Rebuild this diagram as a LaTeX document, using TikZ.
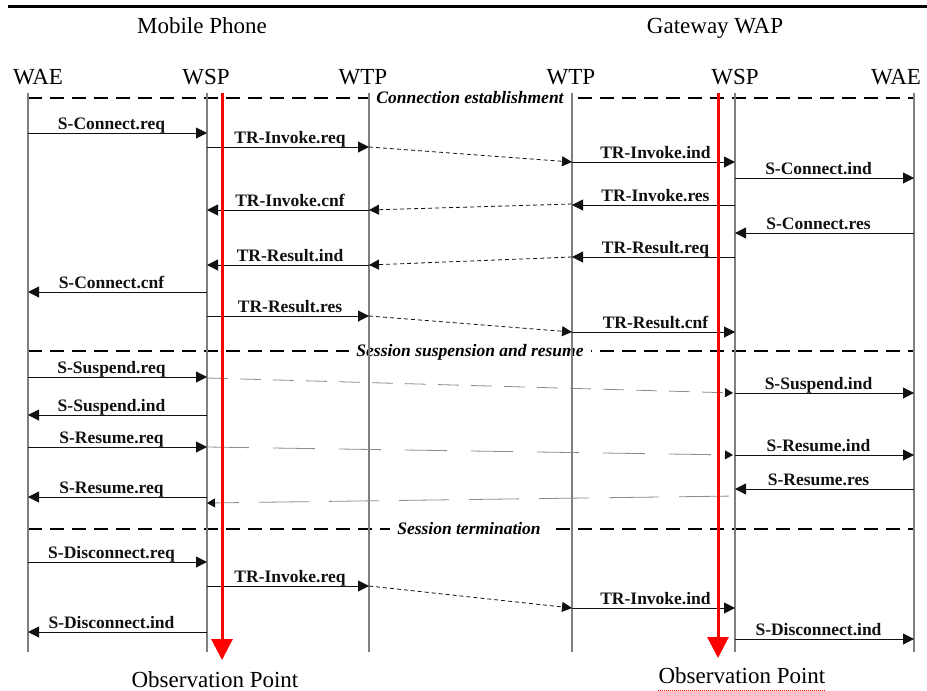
\documentclass[tikz,border=0pt]{standalone}
\usepackage{fontspec}
\setmainfont{Liberation Serif}
\usetikzlibrary{arrows.meta}
\definecolor{ink}{HTML}{111111}
\definecolor{lifegray}{HTML}{7F7F7F}
\definecolor{dotgray}{HTML}{8C8C8C}
\definecolor{obsred}{HTML}{FF0000}

\begin{document}
\begin{tikzpicture}[x=1pt,y=-1pt,
  hdr/.style={font=\fontsize{23}{26}\selectfont,anchor=base,inner sep=0pt},
  sec/.style={font=\fontsize{17.5}{20}\selectfont\bfseries\itshape,anchor=base,fill=white,inner xsep=7pt,inner ysep=2pt},
  lbl/.style={font=\fontsize{17.5}{20}\selectfont\bfseries,anchor=base,inner sep=0pt,yshift=3.5pt,xshift=2pt},
  slbl/.style={lbl,xshift=-8pt},
  sepline/.style={line width=1.8pt,dash pattern=on 14pt off 8pt},
  life/.style={line width=1.4pt,lifegray},
  msg/.style={-{Triangle[length=11pt,width=11pt]},line width=1pt,ink},
  xline/.style={-{Triangle[length=10pt,width=10pt]},line width=0.8pt,ink,dash pattern=on 4pt off 3pt},
  dots/.style={-{Triangle[length=8pt,width=9pt,color=ink]},line width=0.8pt,dotgray,shorten >=2pt},
  obs/.style={-{Triangle[length=21pt,width=21pt]},line width=3pt,obsred}]
  \useasboundingbox (0,0) rectangle (927,691);
  \fill[white] (0,0) rectangle (927,691);
  \draw[line width=3pt] (8,6) -- (927,6);

  % ===== headers =====
  \node[hdr] (mobile) at (202,33) {Mobile Phone};
  \node[hdr] (gateway) at (715,33) {Gateway WAP};
  \node[hdr] (waeLtxt) at (38,84) {WAE};
  \node[hdr] (wspLtxt) at (206,84) {WSP};
  \node[hdr] (wtpLtxt) at (363,84) {WTP};
  \node[hdr] (wtpRtxt) at (571,84) {WTP};
  \node[hdr] (wspRtxt) at (735,84) {WSP};
  \node[hdr] (waeRtxt) at (896,84) {WAE};

  % ===== lifeline tops =====
  \coordinate (waeL) at (28,93);
  \coordinate (wspL) at (207,93);
  \coordinate (wtpL) at (369,93);
  \coordinate (wtpR) at (572,93);
  \coordinate (wspR) at (735,93);
  \coordinate (waeR) at (914,93);
  \coordinate (obsL) at (222,93);
  \coordinate (obsR) at (718,93);

  % ===== phase separators =====
  \draw[sepline] (waeL |- 0,98) -- (waeR |- 0,98);
  \node[sec] (conn) at (470,103) {Connection establishment};
  \draw[sepline] (waeL |- 0,351) -- (waeR |- 0,351);
  \node[sec] (susp) at (470,356) {Session suspension and resume};
  \draw[sepline] (waeL |- 0,529) -- (waeR |- 0,529);
  \node[sec] (term) at (469,534) {Session termination};

  % ===== lifelines =====
  \draw[life] (waeL) -- (waeL |- 0,652);
  \draw[life] (wspL) -- (wspL |- 0,652);
  \draw[life] (wtpL) -- (wtpL |- 0,652);
  \draw[life] (wtpR) -- (wtpR |- 0,652);
  \draw[life] (wspR) -- (wspR |- 0,652);
  \draw[life] (waeR) -- (waeR |- 0,652);

  % ===== connection establishment =====
  \draw[msg] (waeL |- 0,133) -- node[slbl] {S-Connect.req} (wspL |- 0,133);
  \draw[msg] (wspL |- 0,147) -- node[lbl] {TR-Invoke.req} (wtpL |- 0,147);
  \draw[xline] (wtpL |- 0,147) -- (wtpR |- 0,162);
  \draw[msg] (wtpR |- 0,162) -- node[lbl] {TR-Invoke.ind} (wspR |- 0,162);
  \draw[msg] (wspR |- 0,178) -- node[slbl] {S-Connect.ind} (waeR |- 0,178);
  \draw[msg] (wspR |- 0,205) -- node[lbl] {TR-Invoke.res} (wtpR |- 0,205);
  \draw[xline] (wtpR |- 0,204) -- (wtpL |- 0,210);
  \draw[msg] (wtpL |- 0,210) -- node[lbl] {TR-Invoke.cnf} (wspL |- 0,210);
  \draw[msg] (waeR |- 0,233) -- node[slbl] {S-Connect.res} (wspR |- 0,233);
  \draw[msg] (wspR |- 0,257) -- node[lbl] {TR-Result.req} (wtpR |- 0,257);
  \draw[xline] (wtpR |- 0,257) -- (wtpL |- 0,265);
  \draw[msg] (wtpL |- 0,265) -- node[lbl] {TR-Result.ind} (wspL |- 0,265);
  \draw[msg] (wspL |- 0,292) -- node[slbl] {S-Connect.cnf} (waeL |- 0,292);
  \draw[msg] (wspL |- 0,316) -- node[lbl] {TR-Result.res} (wtpL |- 0,316);
  \draw[xline] (wtpL |- 0,316) -- (wtpR |- 0,332);
  \draw[msg] (wtpR |- 0,332) -- node[lbl] {TR-Result.cnf} (wspR |- 0,332);

  % ===== suspension and resume =====
  \draw[msg] (waeL |- 0,377) -- node[slbl] {S-Suspend.req} (wspL |- 0,377);
  \draw[dots,dash pattern=on 21pt off 12pt] (wspL |- 0,378) -- (wspR |- 0,393);
  \draw[msg] (wspR |- 0,393) -- node[slbl] {S-Suspend.ind} (waeR |- 0,393);
  \draw[msg] (wspL |- 0,415) -- node[slbl] {S-Suspend.ind} (waeL |- 0,415);
  \draw[msg] (waeL |- 0,447) -- node[slbl] {S-Resume.req} (wspL |- 0,447);
  \draw[dots,dash pattern=on 42pt off 24pt] (wspL |- 0,447) -- (wspR |- 0,455);
  \draw[msg] (wspR |- 0,455) -- node[slbl] {S-Resume.ind} (waeR |- 0,455);
  \draw[msg] (waeR |- 0,489) -- node[slbl] {S-Resume.res} (wspR |- 0,489);
  \draw[dots,dash pattern=on 50pt off 20pt,shorten >=0pt,shorten <=6pt] (wspR |- 0,496) -- (wspL |- 0,503);
  \draw[msg] (wspL |- 0,497) -- node[slbl] {S-Resume.req} (waeL |- 0,497);

  % ===== termination =====
  \draw[msg] (waeL |- 0,562) -- node[slbl] {S-Disconnect.req} (wspL |- 0,562);
  \draw[msg] (wspL |- 0,586) -- node[lbl] {TR-Invoke.req} (wtpL |- 0,586);
  \draw[xline] (wtpL |- 0,586) -- (wtpR |- 0,608);
  \draw[msg] (wtpR |- 0,608) -- node[lbl] {TR-Invoke.ind} (wspR |- 0,608);
  \draw[msg] (wspL |- 0,632) -- node[slbl] {S-Disconnect.ind} (waeL |- 0,632);
  \draw[msg] (wspR |- 0,639) -- node[slbl] {S-Disconnect.ind} (waeR |- 0,639);

  % ===== observation points =====
  \draw[obs] (obsL) -- (obsL |- 0,660);
  \draw[obs] (obsR) -- (obsR |- 0,658);
  \node[hdr] (obsLtxt) at (215,687) {Observation Point};
  \node[hdr] (obsRtxt) at (742,683) {Observation Point};
  \draw[obsred,line width=0.7pt,dash pattern=on 1pt off 1pt] ([yshift=-7pt]obsRtxt.base west) -- ([yshift=-7pt]obsRtxt.base east);
\end{tikzpicture}
\end{document}
